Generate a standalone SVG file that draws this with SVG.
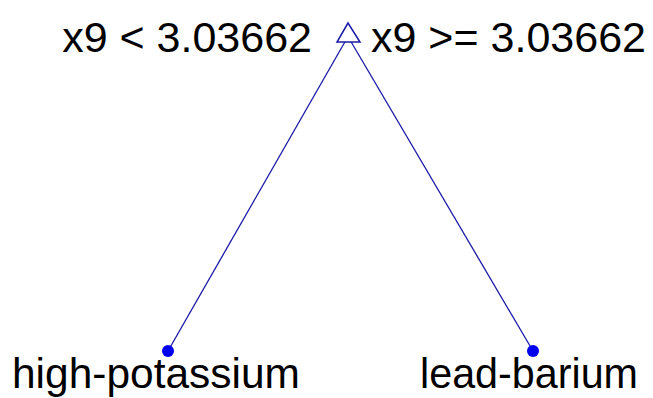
<svg xmlns="http://www.w3.org/2000/svg" width="653" height="398" viewBox="0 0 653 398">
<style>
text{font-family:"Liberation Sans",Arial,sans-serif;font-size:43px;fill:#000}
.edge{stroke:#1a1aa8;stroke-width:1.3;fill:none}
.leaf{fill:#0000ee}
</style>
<rect width="653" height="398" fill="#fff"/>
<g id="connectors">
<line class="edge" x1="346" y1="40" x2="168" y2="351"/>
<line class="edge" x1="350" y1="40" x2="533" y2="351"/>
</g>
<g id="root">
<polygon points="348,23 337,42 360,42" fill="#fff" stroke="#1a1aa8" stroke-width="1.5"/>
<text x="312" y="52" text-anchor="end">x9 &lt; 3.03662</text>
<text x="371" y="52">x9 &gt;= 3.03662</text>
</g>
<g id="leaf-left">
<circle class="leaf" cx="168" cy="351" r="6"/>
<text x="12" y="388" textLength="288" lengthAdjust="spacingAndGlyphs">high-potassium</text>
</g>
<g id="leaf-right">
<circle class="leaf" cx="533" cy="351" r="6"/>
<text x="420" y="388" textLength="218" lengthAdjust="spacingAndGlyphs">lead-barium</text>
</g>
</svg>
